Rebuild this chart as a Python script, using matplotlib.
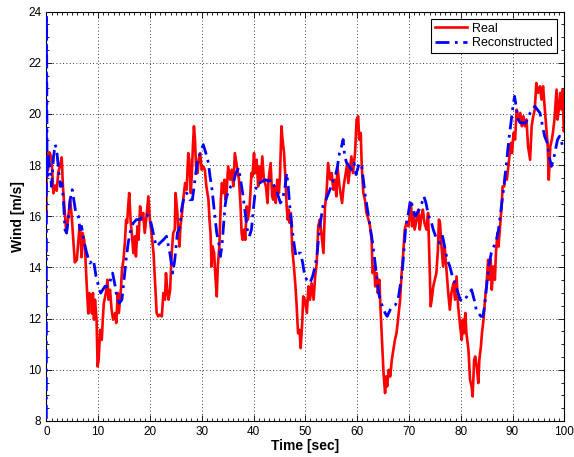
import matplotlib
matplotlib.use("Agg")
import matplotlib.pyplot as plt
from matplotlib.ticker import MultipleLocator

plt.rcParams['font.family'] = ['Liberation Sans', 'DejaVu Sans']

real_t = [0.0, 0.05, 0.3, 0.6, 1.0, 1.36, 1.7, 2.0, 2.3, 2.65, 2.97, 3.2, 3.4, 3.8, 3.9, 4.3, 4.6, 4.9,
          5.2, 5.5, 5.9, 6.2, 6.4, 6.6, 6.8, 7.0, 7.3, 7.5, 7.8, 8.1, 8.3, 8.6, 8.8, 9.0, 9.2, 9.4, 9.7,
          9.9, 10.1, 10.4, 10.7, 10.9, 11.1, 11.5, 11.8, 12.0, 12.3, 12.6, 12.9, 13.3, 13.5, 13.8, 14.0,
          14.4, 14.6, 14.9, 15.2, 15.4, 15.6, 15.8, 16.0, 16.3, 16.5, 16.8, 17.1, 17.3, 17.6, 17.8, 18.1,
          18.4, 18.7, 19.0, 19.4, 19.7, 20.0, 20.3, 20.7, 21.0, 21.3, 21.6, 21.9, 22.3, 22.6, 22.9, 23.1,
          23.4, 23.6, 23.9, 24.2, 24.5, 24.8, 24.95, 25.3, 25.5, 25.7, 25.9, 26.2, 26.5, 26.8, 27.1, 27.4,
          27.6, 27.9, 28.1, 28.3, 28.5, 28.7, 28.9, 29.2, 29.4, 29.7, 30.0, 30.3, 30.6, 30.9, 31.3, 31.5,
          31.7, 31.9, 32.1, 32.4, 32.6, 32.9, 33.1, 33.4, 33.7, 33.9, 34.2, 34.4, 34.6, 34.8, 35.1, 35.5,
          35.8, 36.1, 36.4, 36.6, 36.9, 37.2, 37.5, 37.7, 37.9, 38.2, 38.4, 38.7, 38.9, 39.2, 39.4, 39.6,
          39.8, 40.1, 40.3, 40.6, 40.9, 41.1, 41.4, 41.7, 42.0, 42.4, 42.7, 42.9, 43.3, 43.6, 43.8, 44.1,
          44.3, 44.6, 44.9, 45.1, 45.4, 45.6, 45.9, 46.1, 46.4, 46.6, 46.8, 47.0, 47.2, 47.5, 47.8, 48.1,
          48.3, 48.6, 48.9, 49.1, 49.4, 49.6, 49.9, 50.3, 50.6, 50.9, 51.2, 51.6, 51.9, 52.2, 52.5, 52.8,
          53.1, 53.5, 53.8, 54.1, 54.4, 54.8, 55.1, 55.4, 55.7, 56.0, 56.2, 56.6, 56.9, 57.1, 57.4, 57.8,
          58.1, 58.3, 58.6, 58.9, 59.2, 59.6, 59.9, 60.2, 60.4, 60.7, 60.9, 61.2, 61.5, 61.8, 62.2, 62.5,
          62.8, 63.0, 63.3, 63.5, 63.8, 64.0, 64.3, 64.5, 64.8, 65.1, 65.4, 65.6, 65.8, 66.1, 66.4, 66.7,
          67.0, 67.3, 67.6, 67.9, 68.3, 68.6, 68.9, 69.2, 69.5, 69.9, 70.2, 70.4, 70.6, 70.9, 71.1, 71.5,
          71.8, 72.1, 72.4, 72.7, 73.0, 73.4, 73.7, 74.0, 74.2, 74.4, 74.7, 75.0, 75.3, 75.6, 75.8, 76.0,
          76.3, 76.6, 76.9, 77.3, 77.6, 77.9, 78.2, 78.6, 78.9, 79.2, 79.5, 79.9, 80.2, 80.4, 80.6, 80.9,
          81.1, 81.5, 81.8, 82.1, 82.3, 82.6, 82.8, 83.1, 83.4, 83.6, 83.9, 84.1, 84.4, 84.7, 85.0, 85.3,
          85.5, 85.8, 86.0, 86.3, 86.6, 86.8, 87.1, 87.3, 87.6, 87.9, 88.1, 88.4, 88.6, 88.9, 89.2, 89.4,
          89.7, 89.9, 90.2, 90.5, 90.8, 91.1, 91.5, 91.8, 92.1, 92.4, 92.7, 93.0, 93.4, 93.7, 94.0, 94.3,
          94.6, 94.9, 95.3, 95.6, 95.9, 96.2, 96.5, 96.8, 97.0, 97.3, 97.6, 97.8, 98.1, 98.5, 98.7, 99.0,
          99.2, 99.5, 99.7, 99.9, 100.0]
real_v = [16.0, 18.7, 17.8, 18.5, 18.3, 16.9, 17.2, 17.0, 17.7, 18.0, 18.3, 17.2, 16.6, 15.5, 15.35, 16.1, 16.65, 16.0,
          15.1, 14.2, 14.3, 15.1, 15.6, 15.35, 14.4, 15.35, 15.1, 14.6, 13.3, 12.2, 13.0, 12.9, 12.2, 13.0, 11.96, 12.74, 11.96,
          10.13, 10.39, 11.56, 11.17, 11.96, 12.61, 13.0, 13.52, 12.74, 13.13, 12.35, 11.96, 12.22, 11.83, 13.0, 12.22,
          13.13, 13.91, 14.30, 15.08, 15.87, 15.74, 16.39, 16.91, 15.74, 15.35, 14.56, 15.22, 14.43, 15.61, 15.08, 16.39,
          15.87, 16.13, 15.35, 16.13, 16.78, 15.87, 15.35, 14.56, 13.39, 12.22, 12.09, 12.15, 12.09, 13.0, 12.74, 13.78,
          13.0, 12.74, 13.13, 14.56, 15.35, 15.48, 16.91, 16.13, 15.35, 14.82, 15.61, 16.13, 16.78, 17.30, 17.04, 18.47,
          18.21, 16.91, 17.69, 18.74, 19.52, 19.00, 17.95, 17.69, 18.21, 18.47, 17.82, 17.95, 17.82, 17.17, 16.65, 15.87,
          15.35, 14.04, 14.82, 14.56, 13.78, 12.87, 14.04, 14.82, 16.65, 17.30, 16.91, 17.43, 16.65, 16.91, 17.95, 17.43,
          17.82, 17.17, 18.47, 18.21, 17.82, 17.43, 16.39, 15.35, 15.08, 15.48, 15.08, 16.39, 15.87, 16.26, 16.91, 17.69,
          17.56, 18.47, 17.69, 18.21, 17.17, 17.95, 17.43, 18.34, 17.43, 17.17, 16.52, 17.43, 18.08, 16.78, 16.65, 17.17,
          16.52, 17.43, 16.91, 17.56, 19.52, 19.00, 18.47, 17.69, 16.39, 15.87, 16.26, 15.74, 16.13, 14.69, 14.04, 13.26,
          12.61, 11.43, 11.56, 10.85, 11.83, 12.87, 12.74, 12.22, 13.26, 12.74, 13.39, 12.74, 13.65, 14.17, 15.61, 15.87,
          15.35, 14.56, 16.39, 16.91, 18.08, 17.43, 17.69, 17.04, 17.43, 16.78, 17.95, 17.17, 16.78, 16.52, 17.17, 17.69,
          18.08, 17.30, 17.82, 18.34, 17.69, 18.47, 19.78, 19.91, 19.00, 19.26, 17.95, 16.91, 16.65, 16.13, 15.87, 15.61,
          15.08, 13.78, 14.04, 13.26, 13.78, 13.0, 13.52, 12.48, 11.17, 9.87, 9.09, 9.74, 9.35, 10.0, 9.74, 10.39,
          10.78, 11.17, 11.43, 11.96, 12.74, 13.78, 14.56, 15.48, 15.74, 15.61, 16.13, 16.52, 15.61, 16.13, 15.48, 15.87,
          16.26, 15.48, 16.0, 16.26, 15.74, 15.48, 16.13, 14.04, 12.48, 12.74, 13.26, 13.52, 13.78, 14.69, 15.87, 15.74,
          14.82, 14.04, 14.82, 13.78, 13.0, 12.35, 13.0, 13.39, 12.74, 13.65, 12.48, 11.70, 11.17, 11.96, 11.43, 12.22,
          11.43, 10.78, 9.61, 9.35, 8.96, 10.39, 10.52, 10.13, 9.48, 10.39, 10.91, 11.43, 11.96, 12.74, 13.39, 14.30,
          13.52, 14.30, 13.13, 14.04, 13.52, 14.56, 15.35, 14.82, 15.61, 16.39, 17.17, 17.17, 17.69, 17.43, 17.95, 18.34,
          18.87, 18.47, 19.26, 19.00, 20.17, 19.78, 20.04, 19.52, 19.91, 19.52, 19.78, 18.74, 18.21, 19.52, 19.91, 20.17,
          21.21, 20.82, 21.08, 20.56, 21.08, 20.30, 19.52, 18.74, 17.43, 18.74, 19.00, 19.26, 19.78, 20.95, 19.78, 20.30,
          20.82, 20.17, 20.95, 19.32, 19.4]

recon_t = [0.0, 0.03, 0.15, 0.4, 0.75, 1.0, 1.4, 1.7, 2.0, 2.3, 2.7, 3.0, 3.3, 3.6, 3.9, 4.3, 4.6, 5.0, 5.4,
           5.7, 6.2, 6.5, 6.8, 7.2, 7.8, 8.4, 9.1, 9.6, 10.1, 10.5, 10.9, 11.3, 11.9, 12.4, 12.8, 13.3, 13.7,
           14.1, 14.6, 15.0, 15.4, 15.8, 16.3, 16.8, 17.4, 18.1, 18.7, 19.4, 20.0, 20.5, 20.9, 21.3, 21.9,
           22.6, 23.2, 23.9, 24.4, 24.8, 25.3, 25.8, 26.1, 26.6, 27.1, 27.7, 28.2, 28.7, 29.2, 29.7, 30.3,
           30.8, 31.3, 31.6, 32.0, 32.4, 32.9, 33.3, 33.6, 33.9, 34.2, 34.5, 34.8, 35.1, 35.6, 36.1, 36.6,
           37.1, 37.5, 37.9, 38.4, 38.8, 39.2, 39.6, 39.9, 40.3, 40.7, 41.2, 41.7, 42.3, 42.9, 43.5, 44.0,
           44.4, 44.8, 45.2, 45.6, 46.1, 46.4, 46.7, 47.0, 47.4, 47.8, 48.2, 48.6, 49.1, 49.5, 49.9, 50.3,
           50.9, 51.4, 51.9, 52.3, 52.7, 53.2, 53.5, 54.0, 54.5, 55.0, 55.4, 55.8, 56.2, 56.6, 57.0, 57.3,
           57.6, 58.0, 58.5, 58.9, 59.4, 59.8, 60.4, 60.9, 61.2, 61.5, 62.0, 62.5, 63.0, 63.4, 63.9, 64.4,
           64.9, 65.4, 65.8, 66.4, 66.9, 67.4, 67.9, 68.3, 68.7, 69.0, 69.4, 69.9, 70.3, 70.7, 71.2, 71.6,
           72.0, 72.5, 72.9, 73.3, 73.8, 74.2, 74.7, 75.4, 76.0, 76.5, 76.9, 77.4, 77.9, 78.4, 78.9, 79.3,
           79.9, 80.4, 80.8, 81.2, 81.6, 82.1, 82.6, 83.0, 83.4, 83.9, 84.3, 84.6, 85.0, 85.4, 85.9, 86.4,
           86.9, 87.3, 87.7, 88.1, 88.5, 88.9, 89.3, 89.7, 90.1, 90.4, 90.7, 91.1, 91.5, 92.0, 92.5, 92.9,
           93.4, 93.9, 94.3, 94.8, 95.3, 95.8, 96.2, 96.7, 97.1, 97.5, 97.9, 98.3, 98.7, 99.1, 99.5, 99.9]
recon_v = [7.0, 25.0, 17.56, 18.34, 17.82, 17.17, 18.34, 18.80, 18.61, 17.95, 17.17, 17.30, 16.65, 15.48, 15.35, 16.0, 16.65, 17.04, 16.52,
           16.13, 16.0, 15.48, 15.61, 15.08, 14.56, 14.17, 14.30, 13.65, 13.26, 13.0, 13.13, 13.26, 13.26, 13.52, 13.78, 13.26, 12.74,
           12.61, 12.74, 13.52, 14.30, 14.95, 15.48, 15.74, 15.87, 15.87, 16.06, 16.06, 15.93, 15.48, 15.08, 14.82, 14.95,
           15.08, 15.22, 14.50, 13.78, 14.30, 15.35, 15.61, 16.26, 16.78, 16.91, 16.65, 16.65, 17.43, 18.21, 18.47, 18.80,
           18.47, 18.08, 17.56, 17.04, 16.26, 15.35, 14.95, 14.43, 14.82, 15.61, 16.39, 16.78, 16.91, 17.17, 17.30, 17.69,
           17.89, 17.43, 16.91, 16.13, 15.48, 15.22, 15.48, 16.13, 16.91, 17.30, 17.30, 17.37, 17.43, 17.37, 17.43, 17.17,
           17.04, 16.78, 16.52, 16.65, 17.17, 17.69, 17.17, 16.39, 15.61, 14.95, 14.43, 14.56, 14.56, 14.17, 13.65, 13.52,
           13.39, 13.65, 14.04, 14.56, 15.48, 16.13, 16.52, 16.65, 16.91, 17.17, 17.43, 17.56, 17.95, 18.47, 18.74, 19.00,
           18.34, 18.08, 17.95, 17.82, 18.08, 17.63, 18.08, 17.95, 17.43, 16.91, 16.26, 15.61, 14.95, 14.30, 13.39, 12.74,
           12.48, 12.22, 12.09, 12.35, 12.48, 12.54, 12.74, 13.26, 13.78, 14.56, 15.61, 16.13, 16.65, 16.39, 16.0, 16.13,
           16.26, 16.52, 16.78, 16.52, 16.0, 15.87, 15.48, 15.08, 14.95, 15.22, 14.82, 14.30, 14.04, 13.65, 13.39, 13.13,
           12.74, 12.67, 12.74, 12.87, 13.0, 13.13, 12.74, 12.35, 12.22, 12.09, 12.09, 12.48, 13.26, 14.04, 14.56, 14.82,
           15.08, 15.48, 16.13, 16.78, 17.43, 18.21, 19.0, 19.65, 20.30, 20.69, 20.30, 19.78, 19.65, 19.65, 19.65, 19.78,
           20.04, 20.17, 20.30, 20.17, 20.04, 19.52, 19.13, 18.87, 18.34, 17.95, 18.21, 18.61, 19.0, 19.13, 18.87, 18.61]

x_ticks = [0, 10, 20, 30, 40, 50, 60, 70, 80, 90, 100]
y_ticks = [8, 10, 12, 14, 16, 18, 20, 22, 24]

fig = plt.figure(figsize=(5.74, 4.57), dpi=100)
ax = fig.add_axes([0.0807, 0.0788, 0.9024, 0.8958])

ax.plot(real_t, real_v, color='#ff0000', lw=1.9, label='Real', zorder=2)
ax.plot(recon_t, recon_v, color='#0000ff', lw=2.0, ls=(0, (5, 2, 1, 2)), label='Reconstructed', zorder=3)

ax.set_xlim(0, 100)
ax.set_ylim(8, 24)
ax.set_xticks(x_ticks)
ax.set_yticks(y_ticks)
ax.xaxis.set_minor_locator(MultipleLocator(1))
ax.yaxis.set_minor_locator(MultipleLocator(0.5))
ax.tick_params(which='both', direction='in', top=True, right=True, labelsize=8.5, width=0.6)
ax.tick_params(which='major', length=4)
ax.tick_params(which='minor', length=2)
ax.grid(True, which='major', ls=(0, (1, 3)), color='black', lw=0.6)
for s in ax.spines.values():
    s.set_linewidth(0.8)

ax.set_xlabel('Time [sec]', fontsize=10, fontweight='bold', labelpad=1)
ax.set_ylabel('Wind [m/s]', fontsize=10, fontweight='bold', labelpad=2)

leg = ax.legend(loc='upper right', fontsize=9, fancybox=False, framealpha=1, edgecolor='black',
                handlelength=2.6, borderpad=0.3, labelspacing=0.2, handletextpad=0.4,
                borderaxespad=0.6)
leg.get_frame().set_linewidth(0.8)

fig.savefig('out.png', dpi=100)
